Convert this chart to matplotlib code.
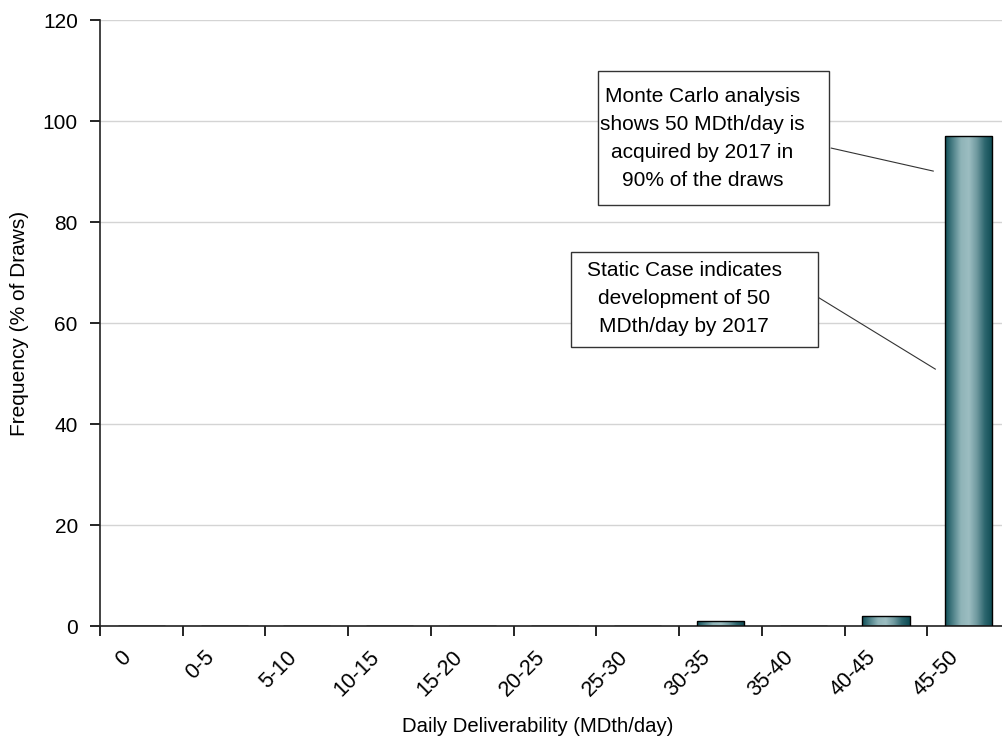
import numpy as np
import matplotlib
matplotlib.use("Agg")
import matplotlib.pyplot as plt
from matplotlib.colors import LinearSegmentedColormap
from matplotlib.patches import Rectangle

plt.rcParams['font.family'] = ['Liberation Sans', 'DejaVu Sans']

categories = ["0", "0-5", "5-10", "10-15", "15-20", "20-25", "25-30",
              "30-35", "35-40", "40-45", "45-50"]
frequency = [0, 0, 0, 0, 0, 0, 0, 1, 0, 2, 97]
y_ticks = [0, 20, 40, 60, 80, 100, 120]

fig = plt.figure(figsize=(10.03, 7.42), dpi=100)
# plot area runs slightly past the right edge of the canvas
ax = fig.add_axes([0.0997, 0.156, 0.9073, 0.817])

x = np.arange(len(categories))
bar_width = 0.57
bars = ax.bar(x, frequency, width=bar_width, color='none', edgecolor='black',
              linewidth=1.0, zorder=3)

# cylinder-style shading across each bar
shade = LinearSegmentedColormap.from_list(
    "teal", ["#0f4f58", "#4f8289", "#8fb4b8", "#9cbdc1", "#6f999f", "#2d666e", "#0c4a52"])
grad = np.linspace(0, 1, 256).reshape(1, -1)
for rect, v in zip(bars, frequency):
    if v <= 0:
        continue
    x0, w = rect.get_x(), rect.get_width()
    im = ax.imshow(grad, cmap=shade, aspect='auto',
                   extent=[x0, x0 + w, 0, v], zorder=2, interpolation='bilinear')
    im.set_clip_path(rect)

ax.set_xlim(-0.5, len(categories) - 0.5)
ax.set_ylim(0, 120)
ax.set_yticks(y_ticks)
ax.set_yticklabels([str(t) for t in y_ticks], fontsize=15)
ax.yaxis.grid(True, color='#d4d4d4', linewidth=1.0, zorder=0)
ax.set_axisbelow(True)

# boundary ticks between categories; slanted labels sit just left of each centre
label_nudge = 0.25
ax.set_xticks(np.arange(len(categories) + 1) - 0.5, minor=False)
ax.set_xticklabels([])
ax.set_xticks(x - label_nudge, minor=True)
ax.set_xticklabels(categories, minor=True, rotation=45, ha='right',
                   rotation_mode='anchor', fontsize=15.5)
ax.tick_params(axis='x', which='minor', length=0, pad=15)
ax.tick_params(axis='x', which='major', length=7, direction='out', width=1.2)
ax.tick_params(axis='y', length=7, direction='out', width=1.2, pad=9)

for side in ['top', 'right']:
    ax.spines[side].set_visible(False)
for side in ['left', 'bottom']:
    ax.spines[side].set_linewidth(1.2)
    ax.spines[side].set_color('#222222')

ax.set_xlabel("Daily Deliverability (MDth/day)", fontsize=14.6)
ax.xaxis.set_label_coords(0.481, -0.150)
ax.set_ylabel("Frequency (% of Draws)", fontsize=15, labelpad=10)

# callout boxes with leader lines to the 45-50 bar
callouts = [
    dict(text="Monte Carlo analysis\nshows 50 MDth/day is\nacquired by 2017 in\n90% of the draws",
         box=(5.522, 83.4, 8.315 - 5.522, 109.9 - 83.4), center=(6.78, 96.6),
         line=((8.339, 9.572), (94.65, 90.1))),
    dict(text="Static Case indicates\ndevelopment of 50\nMDth/day by 2017",
         box=(5.195, 55.25, 8.182 - 5.195, 74.06 - 55.25), center=(6.56, 64.8),
         line=((8.182, 9.597), (65.1, 50.9))),
]
for c in callouts:
    bx, by, bw, bh = c['box']
    ax.add_patch(Rectangle((bx, by), bw, bh, facecolor='white', edgecolor='#333333',
                           linewidth=1.0, zorder=5))
    ax.text(c['center'][0], c['center'][1], c['text'], ha='center', va='center',
            fontsize=15, linespacing=1.6, zorder=6)
    ax.plot(c['line'][0], c['line'][1], color='#333333', linewidth=0.8, zorder=4)

fig.savefig("out.png", dpi=100)
